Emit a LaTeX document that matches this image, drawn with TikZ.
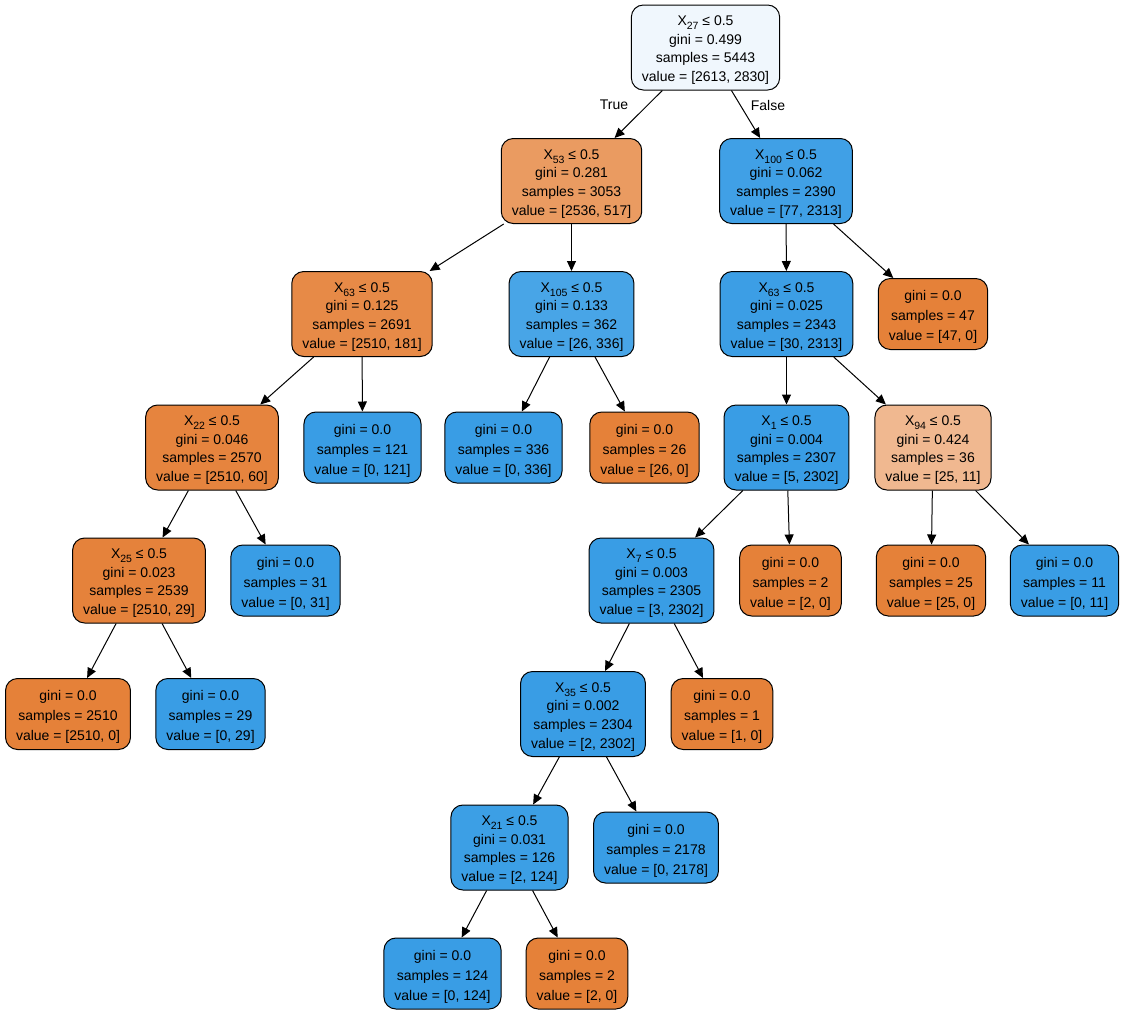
\documentclass[tikz,border=0pt]{standalone}
\usepackage{fontspec}
\setmainfont{Liberation Sans}
\usetikzlibrary{arrows.meta}
\definecolor{dtorange}{RGB}{229,129,57}
\definecolor{dtblue}{RGB}{57,157,229}
\definecolor{dtroot}{RGB}{240,247,253}
\definecolor{dtxa}{RGB}{234,155,97}
\definecolor{dtxb}{RGB}{64,160,230}
\definecolor{dtxc}{RGB}{231,138,71}
\definecolor{dtxd}{RGB}{72,165,231}
\definecolor{dtxe}{RGB}{60,158,229}
\definecolor{dtxf}{RGB}{230,132,62}
\definecolor{dtxg}{RGB}{240,184,144}
\definecolor{dtxh}{RGB}{229,130,59}
\definecolor{dtxi}{RGB}{60,159,229}
\newcommand{\splitlbl}[1]{\rule{0pt}{15pt}X\raisebox{-4pt}{\fontsize{10.5}{10.5}\selectfont #1} ≤ 0.5}
\newcommand{\ginizero}{\rule{0pt}{16pt}gini = 0.0}

\begin{document}
\begin{tikzpicture}[x=1pt,y=-1pt,>={Triangle[length=10pt,width=9pt]},
  every node/.style={font=\fontsize{14}{19}\selectfont},
  dtnode/.style={draw=black,line width=1pt,rounded corners=12pt,align=center,inner xsep=10.5pt,inner ysep=2pt},
  dtsplit/.style={dtnode,minimum height=85pt,font=\fontsize{14}{18.7}\selectfont},
  dtleaf/.style={dtnode,minimum height=71pt,font=\fontsize{14}{20}\selectfont},
  dtedge/.style={->,line width=1pt}]
\useasboundingbox (0,0) rectangle (1125,1015);
\node[dtsplit,fill=dtroot] (dt_root) at (705.5,47.5) {\splitlbl{27}\\gini = 0.499\\samples = 5443\\value = [2613, 2830]};
\node[dtsplit,fill=dtxa] (dt_x53) at (571.5,181) {\splitlbl{53}\\gini = 0.281\\samples = 3053\\value = [2536, 517]};
\node[dtsplit,fill=dtxb] (dt_x100) at (786,181) {\splitlbl{100}\\gini = 0.062\\samples = 2390\\value = [77, 2313]};
\node[dtsplit,fill=dtxc] (dt_x63a) at (362,314) {\splitlbl{63}\\gini = 0.125\\samples = 2691\\value = [2510, 181]};
\node[dtsplit,fill=dtxd] (dt_x105) at (571.5,314) {\splitlbl{105}\\gini = 0.133\\samples = 362\\value = [26, 336]};
\node[dtsplit,fill=dtxe] (dt_x63b) at (786.5,314) {\splitlbl{63}\\gini = 0.025\\samples = 2343\\value = [30, 2313]};
\node[dtleaf,fill=dtorange] (dt_leaf47) at (933,314) {\ginizero\\samples = 47\\value = [47, 0]};
\node[dtsplit,fill=dtxf] (dt_x22) at (212,447.5) {\splitlbl{22}\\gini = 0.046\\samples = 2570\\value = [2510, 60]};
\node[dtleaf,fill=dtblue] (dt_leaf121) at (362.5,447.5) {\ginizero\\samples = 121\\value = [0, 121]};
\node[dtleaf,fill=dtblue] (dt_leaf336) at (503.5,447.5) {\ginizero\\samples = 336\\value = [0, 336]};
\node[dtleaf,fill=dtorange] (dt_leaf26) at (644.5,447.5) {\ginizero\\samples = 26\\value = [26, 0]};
\node[dtsplit,fill=dtblue] (dt_x1) at (786.5,447.5) {\splitlbl{1}\\gini = 0.004\\samples = 2307\\value = [5, 2302]};
\node[dtsplit,fill=dtxg] (dt_x94) at (933,447.5) {\splitlbl{94}\\gini = 0.424\\samples = 36\\value = [25, 11]};
\node[dtsplit,fill=dtxh] (dt_x25) at (139,580.5) {\splitlbl{25}\\gini = 0.023\\samples = 2539\\value = [2510, 29]};
\node[dtleaf,fill=dtblue] (dt_leaf31) at (285.5,580.5) {\ginizero\\samples = 31\\value = [0, 31]};
\node[dtsplit,fill=dtblue] (dt_x7) at (651.5,580.5) {\splitlbl{7}\\gini = 0.003\\samples = 2305\\value = [3, 2302]};
\node[dtleaf,fill=dtorange] (dt_leaf2a) at (790.5,580.5) {\ginizero\\samples = 2\\value = [2, 0]};
\node[dtleaf,fill=dtorange] (dt_leaf25) at (931,580.5) {\ginizero\\samples = 25\\value = [25, 0]};
\node[dtleaf,fill=dtblue] (dt_leaf11) at (1064.5,580.5) {\ginizero\\samples = 11\\value = [0, 11]};
\node[dtleaf,fill=dtorange] (dt_leaf2510) at (68,714) {\ginizero\\samples = 2510\\value = [2510, 0]};
\node[dtleaf,fill=dtblue] (dt_leaf29) at (210.5,714) {\ginizero\\samples = 29\\value = [0, 29]};
\node[dtsplit,fill=dtblue] (dt_x35) at (583,714) {\splitlbl{35}\\gini = 0.002\\samples = 2304\\value = [2, 2302]};
\node[dtleaf,fill=dtorange] (dt_leaf1) at (722,714) {\ginizero\\samples = 1\\value = [1, 0]};
\node[dtsplit,fill=dtxi] (dt_x21) at (509.5,847.5) {\splitlbl{21}\\gini = 0.031\\samples = 126\\value = [2, 124]};
\node[dtleaf,fill=dtblue] (dt_leaf2178) at (656,847.5) {\ginizero\\samples = 2178\\value = [0, 2178]};
\node[dtleaf,fill=dtblue] (dt_leaf124) at (442.5,973.5) {\ginizero\\samples = 124\\value = [0, 124]};
\node[dtleaf,fill=dtorange] (dt_leaf2b) at (577,973.5) {\ginizero\\samples = 2\\value = [2, 0]};
\node (lbl_true) at (614,105) {True};
\node (lbl_false) at (768,105) {False};
\draw[dtedge] (dt_root) -- (dt_x53);
\draw[dtedge] (dt_root) -- (dt_x100);
\draw[dtedge] (dt_x53) -- (dt_x63a);
\draw[dtedge] (dt_x53) -- (dt_x105);
\draw[dtedge] (dt_x100) -- (dt_x63b);
\draw[dtedge] (dt_x100) -- (dt_leaf47);
\draw[dtedge] (dt_x63a) -- (dt_x22);
\draw[dtedge] (dt_x63a) -- (dt_leaf121);
\draw[dtedge] (dt_x105) -- (dt_leaf336);
\draw[dtedge] (dt_x105) -- (dt_leaf26);
\draw[dtedge] (dt_x63b) -- (dt_x1);
\draw[dtedge] (dt_x63b) -- (dt_x94);
\draw[dtedge] (dt_x22) -- (dt_x25);
\draw[dtedge] (dt_x22) -- (dt_leaf31);
\draw[dtedge] (dt_x1) -- (dt_x7);
\draw[dtedge] (dt_x1) -- (dt_leaf2a);
\draw[dtedge] (dt_x94) -- (dt_leaf25);
\draw[dtedge] (dt_x94) -- (dt_leaf11);
\draw[dtedge] (dt_x25) -- (dt_leaf2510);
\draw[dtedge] (dt_x25) -- (dt_leaf29);
\draw[dtedge] (dt_x7) -- (dt_x35);
\draw[dtedge] (dt_x7) -- (dt_leaf1);
\draw[dtedge] (dt_x35) -- (dt_x21);
\draw[dtedge] (dt_x35) -- (dt_leaf2178);
\draw[dtedge] (dt_x21) -- (dt_leaf124);
\draw[dtedge] (dt_x21) -- (dt_leaf2b);
\end{tikzpicture}
\end{document}
